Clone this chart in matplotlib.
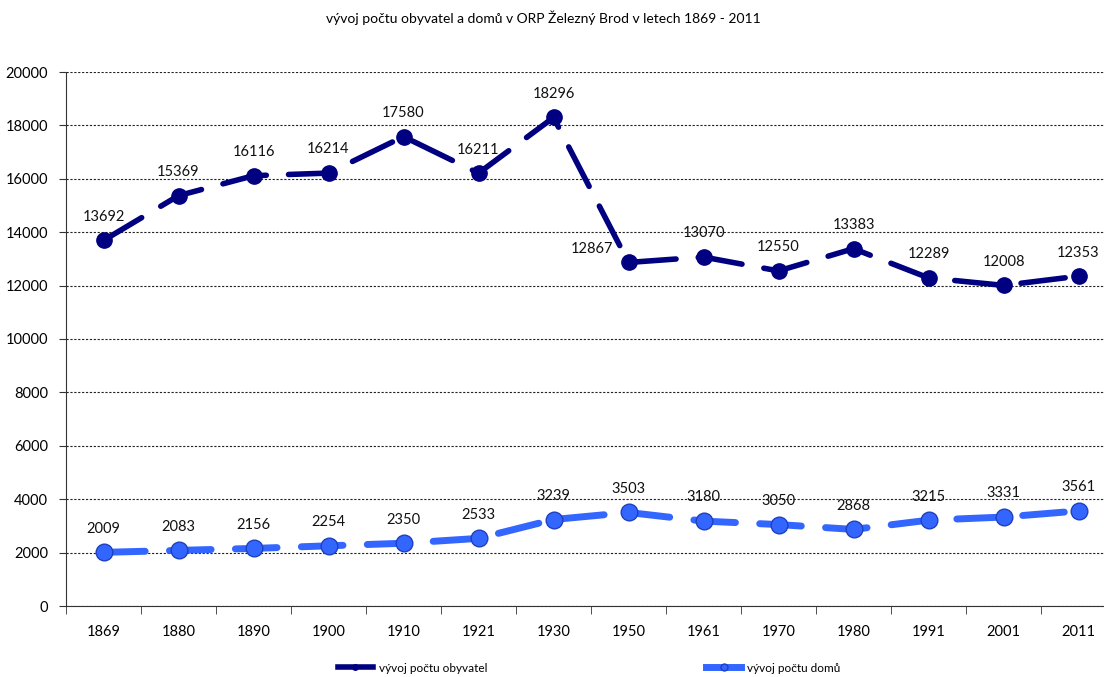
import numpy as np
import matplotlib
matplotlib.use('Agg')
import matplotlib.pyplot as plt
from matplotlib.lines import Line2D
from matplotlib.ticker import FixedLocator

plt.rcParams['font.family'] = ['Lato', 'DejaVu Sans']

years = ['1869', '1880', '1890', '1900', '1910', '1921', '1930',
         '1950', '1961', '1970', '1980', '1991', '2001', '2011']
obyvatel = [13692, 15369, 16116, 16214, 17580, 16211, 18296,
            12867, 13070, 12550, 13383, 12289, 12008, 12353]
domu = [2009, 2083, 2156, 2254, 2350, 2533, 3239,
        3503, 3180, 3050, 2868, 3215, 3331, 3561]
yticks = [0, 2000, 4000, 6000, 8000, 10000, 12000, 14000, 16000, 18000, 20000]

title = 'vývoj počtu obyvatel a domů v ORP Železný Brod v letech 1869 - 2011'
label_obyv = 'vývoj počtu obyvatel'
label_domu = 'vývoj počtu domů'

navy = '#000080'
blue = '#3366ff'

W, H = 1104, 677
fig = plt.figure(figsize=(W / 100, H / 100), dpi=100)
ax = fig.add_axes([66 / W, (H - 606) / H, (W - 66) / W, (606 - 72) / H])

x = np.arange(len(years))

ax.plot(x, obyvatel, color=navy, lw=4, dashes=(8, 4), dash_capstyle='round',
        marker='o', ms=11, mfc=navy, mec=navy, zorder=3)
ax.plot(x, domu, color=blue, lw=5, dashes=(6, 3.5), dash_capstyle='round',
        marker='o', ms=12, mfc=blue, mec='#1f3fbf', mew=1, zorder=3)

# popisky hodnot
for i, v in enumerate(obyvatel):
    if years[i] == '1950':
        ax.annotate(str(v), (i, v), xytext=(-26, 10), textcoords='offset points',
                    ha='center', va='center', fontsize=10.5, color='#111111')
    else:
        ax.annotate(str(v), (i, v), xytext=(0, 17), textcoords='offset points',
                    ha='center', va='center', fontsize=10.5, color='#111111')
for i, v in enumerate(domu):
    ax.annotate(str(v), (i, v), xytext=(0, 17), textcoords='offset points',
                ha='center', va='center', fontsize=10.5, color='#111111')

ax.set_xlim(-0.5, 13.5 - 12 / 75)
ax.set_ylim(0, 20000)
ax.set_yticks(yticks)
ax.set_yticklabels([str(t) for t in yticks])
ax.set_xticks(x)
ax.set_xticklabels(years)
ax.xaxis.set_minor_locator(FixedLocator(np.arange(-0.5, 14, 1)))
ax.tick_params(axis='x', which='major', length=0, pad=14, labelsize=10.5)
ax.tick_params(axis='x', which='minor', length=6, color='#333333')
ax.tick_params(axis='y', length=5, labelsize=10.5, pad=8, color='#333333')

ax.grid(axis='y', color='#222222', ls=(0, (2, 1.5)), lw=0.8)
ax.set_axisbelow(True)
for s in ['top', 'right']:
    ax.spines[s].set_visible(False)
for s in ['left', 'bottom']:
    ax.spines[s].set_color('#333333')
    ax.spines[s].set_zorder(4)

fig.text(543 / W, 1 - 18 / H, title, ha='center', va='center', fontsize=10)

handles = [Line2D([], [], color=navy, lw=4, marker='o', ms=4, mfc=navy, mec=navy),
           Line2D([], [], color=blue, lw=5, marker='o', ms=5, mfc=blue, mec='#1f3fbf')]
fig.legend(handles, [label_obyv, label_domu], loc='center',
           bbox_to_anchor=(589 / W, 1 - 668 / H), ncol=2, frameon=False,
           fontsize=8.5, handlelength=3, columnspacing=18.5, handletextpad=0.5)

fig.savefig('out.png', dpi=100)
